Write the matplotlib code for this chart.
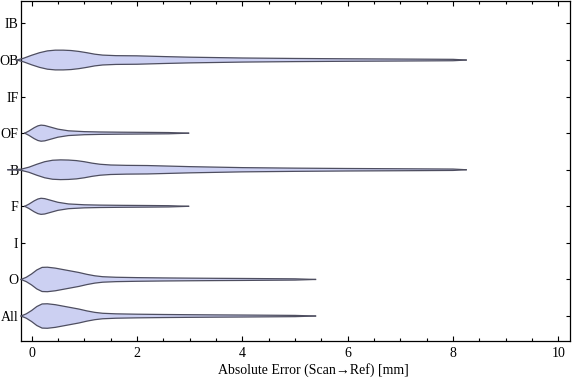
import numpy as np
import matplotlib
matplotlib.use("Agg")
import matplotlib.pyplot as plt
import matplotlib.ticker as tick

plt.rcParams['font.family'] = ['Liberation Serif', 'DejaVu Serif']

# categories, bottom to top
categories = ["All", "O", "I", "F", "B", "OF", "IF", "OB", "IB"]

# violin outlines: x positions [mm] and half widths (in category units)
all_x = [-0.2, -0.1, 0.0, 0.1, 0.2, 0.3, 0.45, 0.6, 0.75, 0.9, 1.05, 1.2, 1.35, 1.6, 2.0, 2.5, 3.0, 3.5, 4.0, 4.5, 5.0, 5.39]
all_hw = [0.0, 0.06, 0.15, 0.26, 0.33, 0.335, 0.31, 0.27, 0.23, 0.19, 0.14, 0.1, 0.075, 0.06, 0.05, 0.042, 0.036, 0.031, 0.027, 0.022, 0.017, 0.0]

o_x = [-0.2, -0.1, 0.0, 0.1, 0.2, 0.3, 0.45, 0.6, 0.75, 0.9, 1.05, 1.2, 1.35, 1.6, 2.0, 2.5, 3.0, 3.5, 4.0, 4.5, 5.0, 5.39]
o_hw = [0.0, 0.06, 0.15, 0.26, 0.33, 0.335, 0.31, 0.27, 0.23, 0.19, 0.14, 0.1, 0.075, 0.06, 0.05, 0.042, 0.036, 0.031, 0.027, 0.022, 0.017, 0.0]

f_x = [-0.13, -0.05, 0.05, 0.12, 0.18, 0.25, 0.35, 0.5, 0.7, 1.0, 1.3, 1.7, 2.2, 2.6, 2.98]
f_hw = [0.0, 0.06, 0.15, 0.2, 0.22, 0.21, 0.17, 0.11, 0.065, 0.042, 0.033, 0.027, 0.022, 0.017, 0.0]

b_x = [-0.45, -0.2, -0.05, 0.1, 0.25, 0.4, 0.55, 0.7, 0.85, 1.0, 1.15, 1.3, 1.5, 1.8, 2.2, 2.6, 3.0, 4.0, 5.0, 6.0, 7.0, 8.0, 8.25]
b_hw = [0.0, 0.015, 0.07, 0.15, 0.22, 0.26, 0.27, 0.265, 0.25, 0.22, 0.18, 0.15, 0.13, 0.12, 0.115, 0.1, 0.085, 0.058, 0.044, 0.034, 0.027, 0.019, 0.0]

of_x = [-0.13, -0.05, 0.05, 0.12, 0.18, 0.25, 0.35, 0.5, 0.7, 1.0, 1.3, 1.7, 2.2, 2.6, 2.98]
of_hw = [0.0, 0.06, 0.15, 0.2, 0.22, 0.21, 0.17, 0.11, 0.065, 0.042, 0.033, 0.027, 0.022, 0.017, 0.0]

ob_x = [-0.28, -0.15, 0.0, 0.15, 0.3, 0.45, 0.6, 0.75, 0.9, 1.05, 1.2, 1.35, 1.6, 2.0, 2.5, 3.0, 4.0, 5.0, 6.0, 7.0, 8.0, 8.25]
ob_hw = [0.0, 0.05, 0.13, 0.2, 0.25, 0.27, 0.27, 0.26, 0.235, 0.2, 0.16, 0.135, 0.12, 0.115, 0.095, 0.078, 0.056, 0.043, 0.034, 0.027, 0.019, 0.0]

violins = {
    "All": (all_x, all_hw),
    "O": (o_x, o_hw),
    "F": (f_x, f_hw),
    "B": (b_x, b_hw),
    "OF": (of_x, of_hw),
    "OB": (ob_x, ob_hw),
}

fill_col = "#ccd0f2"
edge_col = "#4e4e60"

fig = plt.figure(figsize=(5.76, 3.81), dpi=100)
ax = fig.add_axes([20.5/576, 1 - 341/381, 549.5/576, 340.5/381])

for i, cat in enumerate(categories):
    if cat not in violins:
        continue
    xs, hw = violins[cat]
    xs = np.array(xs)
    hw = np.array(hw)
    ax.fill_between(xs, i - hw, i + hw, facecolor=fill_col, edgecolor="none", clip_on=False, zorder=2)
    ax.plot(xs, i + hw, color=edge_col, lw=0.9, clip_on=False, zorder=3)
    ax.plot(xs, i - hw, color=edge_col, lw=0.9, clip_on=False, zorder=3)

ax.set_xlim(-0.21, 10.22)
ax.set_ylim(-0.683, 8.628)

ax.set_yticks(range(len(categories)))
ax.set_yticklabels(categories)
ax.xaxis.set_major_locator(tick.MultipleLocator(2))
ax.xaxis.set_minor_locator(tick.MultipleLocator(0.5))

ax.tick_params(axis="both", which="both", direction="in", top=True, right=True, labelsize=10, width=0.8)
ax.tick_params(axis="x", which="major", length=3.6, pad=4)
ax.tick_params(axis="x", which="minor", length=2.0)
ax.tick_params(axis="y", which="major", length=3.2, pad=1.5)
for s in ax.spines.values():
    s.set_linewidth(0.9)

ax.set_xlabel("Absolute Error (Scan\u2192Ref) [mm]", fontsize=10, labelpad=5)
ax.xaxis.set_label_coords(0.533, -0.065)

fig.savefig("out.png", dpi=100)
